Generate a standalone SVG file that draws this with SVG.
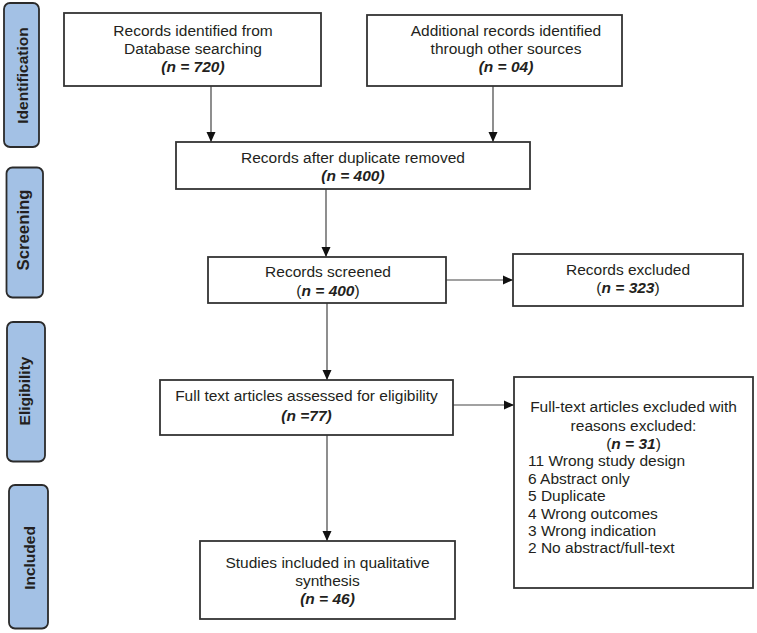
<svg xmlns="http://www.w3.org/2000/svg" width="757" height="633" viewBox="0 0 757 633">
<style>
.tab{fill:#a3c1e5;stroke:#2b2b2b;stroke-width:1.8}
.tabt{font-family:"Liberation Sans",Arial,sans-serif;font-weight:bold;font-size:15.5px;fill:#231f20;text-anchor:middle}
.box{fill:#fff;stroke:#333;stroke-width:1.8}
.t{font-family:"Liberation Sans",Arial,sans-serif;font-size:15.5px;fill:#231f20;text-anchor:middle}
.l{font-family:"Liberation Sans",Arial,sans-serif;font-size:15.5px;fill:#231f20}
.bi{font-weight:bold;font-style:italic}
.c{stroke:#444;stroke-width:1.2;fill:none}
</style>
<defs>
<marker id="ah" markerUnits="userSpaceOnUse" markerWidth="10" markerHeight="10" refX="10" refY="5" orient="auto">
<path d="M0,0.5 L10,5 L0,9.5 z" fill="#111"/>
</marker>
</defs>
<rect width="757" height="633" fill="#fff"/>
<g id="tab-identification">
<rect class="tab" x="4" y="3" width="35" height="144" rx="6"/>
<text class="tabt" transform="translate(27.5,75.5) rotate(-90)">Identification</text>
</g>
<g id="tab-screening">
<rect class="tab" x="6.5" y="167.5" width="36.5" height="130" rx="6"/>
<text class="tabt" style="font-size:16.8px" transform="translate(29,230) rotate(-90)">Screening</text>
</g>
<g id="tab-eligibility">
<rect class="tab" x="7" y="322" width="38" height="139.5" rx="6"/>
<text class="tabt" transform="translate(30,391) rotate(-90)">Eligibility</text>
</g>
<g id="tab-included">
<rect class="tab" x="9" y="485" width="39" height="143.5" rx="6"/>
<text class="tabt" transform="translate(34.5,558) rotate(-90)">Included</text>
</g>
<g id="connectors">
<line class="c" x1="211" y1="86" x2="211" y2="142" marker-end="url(#ah)"/>
<line class="c" x1="493" y1="86" x2="493" y2="142" marker-end="url(#ah)"/>
<line class="c" x1="326" y1="189" x2="326" y2="257" marker-end="url(#ah)"/>
<line class="c" x1="446" y1="280" x2="513" y2="280" marker-end="url(#ah)"/>
<line class="c" x1="327" y1="303" x2="327" y2="380" marker-end="url(#ah)"/>
<line class="c" x1="453" y1="405" x2="514" y2="405" marker-end="url(#ah)"/>
<line class="c" x1="327" y1="435" x2="327" y2="541" marker-end="url(#ah)"/>
</g>
<g id="node-database">
<rect class="box" x="64" y="13" width="257" height="73"/>
<text class="t" x="193" y="36">Records identified from</text>
<text class="t" x="193" y="54">Database searching</text>
<text class="t bi" x="193" y="72">(n = 720)</text>
</g>
<g id="node-other">
<rect class="box" x="367" y="15" width="255" height="71"/>
<text class="t" x="506" y="36">Additional records identified</text>
<text class="t" x="506" y="54">through other sources</text>
<text class="t bi" x="506" y="72">(n = 04)</text>
</g>
<g id="node-duplicates">
<rect class="box" x="176" y="142" width="354" height="47"/>
<text class="t" x="353" y="163">Records after duplicate removed</text>
<text class="t bi" x="353" y="181">(n = 400)</text>
</g>
<g id="node-screened">
<rect class="box" x="208" y="257" width="238" height="46"/>
<text class="t" x="328" y="277">Records screened</text>
<text class="t" x="328" y="296">(<tspan class="bi">n = 400</tspan>)</text>
</g>
<g id="node-excluded">
<rect class="box" x="513" y="254" width="230" height="52"/>
<text class="t" x="628" y="275">Records excluded</text>
<text class="t" x="628" y="293">(<tspan class="bi">n = 323</tspan>)</text>
</g>
<g id="node-fulltext">
<rect class="box" x="160" y="380" width="293" height="55"/>
<text class="t" x="306.5" y="401">Full text articles assessed for eligibility</text>
<text class="t bi" x="306.5" y="421">(n =77)</text>
</g>
<g id="node-fulltext-excluded">
<rect class="box" x="514" y="377" width="239" height="211"/>
<text class="t" x="633.5" y="412">Full-text articles excluded with</text>
<text class="t" x="633.5" y="431">reasons excluded:</text>
<text class="t" x="633.5" y="449">(<tspan class="bi">n = 31</tspan>)</text>
<text class="l" x="528" y="466">11 Wrong study design</text>
<text class="l" x="528" y="483.5">6 Abstract only</text>
<text class="l" x="528" y="501">5 Duplicate</text>
<text class="l" x="528" y="518.5">4 Wrong outcomes</text>
<text class="l" x="528" y="536">3 Wrong indication</text>
<text class="l" x="528" y="553">2 No abstract/full-text</text>
</g>
<g id="node-included">
<rect class="box" x="200" y="541" width="255" height="78"/>
<text class="t" x="327.5" y="568">Studies included in qualitative</text>
<text class="t" x="327.5" y="586">synthesis</text>
<text class="t bi" x="327.5" y="604">(n = 46)</text>
</g>
</svg>
